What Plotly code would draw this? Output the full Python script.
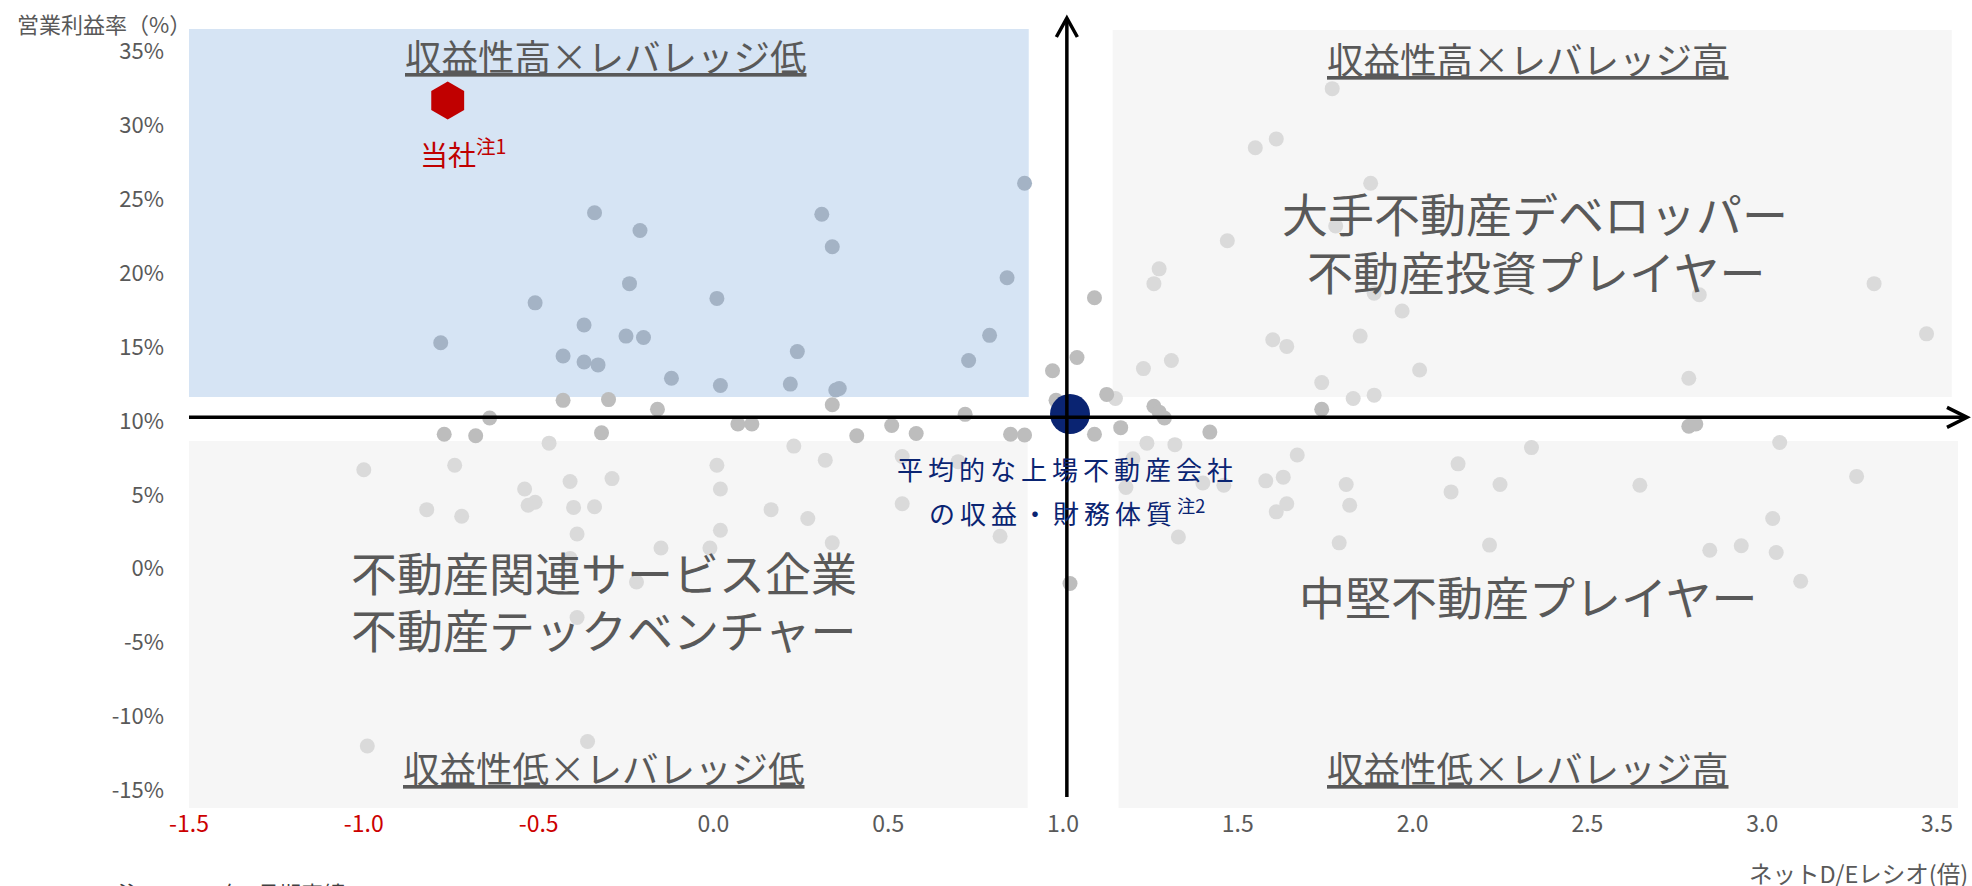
import plotly.graph_objects as go

FONT = "Noto Sans CJK JP, Noto Sans, sans-serif"
TXT_GRAY = "#595959"
RED = "#C00000"
NAVY = "#0A2472"

# ---------------- data ----------------
# peer listed real-estate companies: net D/E ratio (x) and operating margin % (y)
peer_de = [
    -0.34, -0.21, 0.31, 0.34, -0.24, -0.51, 0.01, -0.37, -0.78, -0.25, -0.20, 0.24,
    -0.43, -0.37, -0.33, -0.12, 0.02, 0.22, 0.35, 0.36, 0.89, 0.84, 0.79, 0.73,
    -0.43, -0.30, -0.16, 0.34, -0.64, 0.72, 0.97, 1.04, 1.09, 0.98, 1.125, 1.26,
    1.275, 1.29, 1.74, 0.07, 0.11, -0.77, -0.68, -0.32, 0.41, 0.51, 0.58, 0.85,
    0.89, 1.09, 1.165, 1.42, 2.79, 2.81, 1.02,
    -0.47, 0.23, -1.00, -0.74, 0.01, 0.32, -0.41, -0.29, -0.54, 0.02, -0.51, -0.53,
    -0.82, -0.72, -0.40, -0.34, 0.165, 0.27, -0.39, 0.02, 0.34, -0.15, -0.01, -0.41,
    -0.22, -0.39, -0.99, -0.36, 0.54, 0.54, 0.70, 0.82,
    1.24, 1.32, 1.67, 1.58, 1.63, 1.81, 1.64, 1.61, 1.82, 1.79, 1.33, 1.20,
    1.18, 1.40, 1.46, 2.13, 2.11, 2.25, 2.22, 2.34, 2.65, 3.05, 3.27, 3.03,
    2.85, 2.94, 3.04, 3.11,
    1.77, 1.55, 1.61, 1.88, 1.47, 1.78, 1.275, 1.26, 1.89, 1.97, 2.82, 3.32,
    3.47, 1.85, 1.60, 1.64, 2.02, 2.79, 1.74, 1.83, 1.89, 1.23, 1.31, 1.15,
]
peer_margin = [
    24.1, 22.9, 24.0, 21.8, 19.3, 18.0, 18.3, 16.5, 15.3, 15.75, 15.65, 14.7,
    14.4, 14.0, 13.8, 12.9, 12.4, 12.5, 12.1, 12.2, 26.1, 19.7, 15.8, 14.1,
    11.4, 11.45, 10.8, 11.1, 10.2, 10.45, 13.4, 14.3, 18.35, 11.4, 11.8, 11.0,
    10.6, 10.2, 10.8, 9.8, 9.8, 9.1, 9.0, 9.2, 9.0, 9.7, 9.15, 9.1,
    9.05, 9.1, 9.55, 9.25, 9.65, 9.8, -1.0,
    8.5, 8.3, 6.7, 7.0, 7.0, 7.35, 5.9, 6.1, 5.4, 5.4, 4.5, 4.3,
    4.0, 3.55, 4.15, 4.2, 4.0, 3.4, 2.35, 2.6, 1.75, 1.4, 1.4, 0.7,
    -0.9, -3.3, -12.0, -11.7, 4.4, 7.6, 7.25, 2.2,
    8.5, 8.4, 7.7, 5.95, 6.2, 5.7, 4.4, 3.85, 4.3, 1.75, 2.15, 7.45,
    5.5, 5.8, 5.65, 7.1, 5.2, 5.7, 1.6, 8.2, 5.65, 8.55, 6.25, 3.4,
    1.25, 1.55, 1.1, -0.85,
    32.5, 28.5, 29.1, 26.1, 22.2, 23.2, 20.3, 19.3, 18.65, 17.45, 18.55, 19.3,
    15.9, 15.75, 15.5, 15.05, 13.45, 12.9, 12.6, 11.52, 11.75, 13.55, 14.1, 11.52,
]

company_de = [-0.76]
company_margin = [31.7]
company_label = "当社"

avg_de = [1.02]
avg_margin = [10.47]

x_tickvals = [-1.5, -1.0, -0.5, 0.0, 0.5, 1.0, 1.5, 2.0, 2.5, 3.0, 3.5]
x_ticklabels = ["-1.5", "-1.0", "-0.5", "0.0", "0.5", "1.0", "1.5", "2.0", "2.5", "3.0", "3.5"]
y_tickvals = [35, 30, 25, 20, 15, 10, 5, 0, -5, -10, -15]
y_ticklabels = ["35%", "30%", "25%", "20%", "15%", "10%", "5%", "0%", "-5%", "-10%", "-15%"]

# ---------------- layout geometry ----------------
W, H = 1972, 886
M_L, M_R, M_T, M_B = 189, 14, 29, 78
PLOT_W = W - M_L - M_R
PLOT_H = H - M_T - M_B
X_RANGE = [-1.5, 3.56]
Y_RANGE = [-16.2, 36.54]

CROSS_X = 1.011
CROSS_Y = 10.25

# quadrant boxes (data coords)
BLUE_BOX = dict(x0=-1.5, x1=0.902, y0=11.62, y1=36.54)
TR_BOX = dict(x0=1.142, x1=3.542, y0=11.62, y1=36.47)
BL_BOX = dict(x0=-1.5, x1=0.899, y0=-16.2, y1=8.64)
BR_BOX = dict(x0=1.159, x1=3.56, y0=-16.2, y1=8.64)


def xp(x):
    return (x - X_RANGE[0]) / (X_RANGE[1] - X_RANGE[0])


def yp(y):
    return (y - Y_RANGE[0]) / (Y_RANGE[1] - Y_RANGE[0])


def pxp(px):
    return (px - M_L) / PLOT_W


def pyp(py):
    return (M_T + PLOT_H - py) / PLOT_H


def region(x, y):
    if x < 0.90 and y > 11.5:
        return "blue"
    if (x < 0.90 or x > 1.14) and (y > 11.5 or y < 8.7):
        return "light"
    return "mid"


groups = {"blue": ([], []), "light": ([], []), "mid": ([], [])}
for x, y in zip(peer_de, peer_margin):
    g = groups[region(x, y)]
    g[0].append(x)
    g[1].append(y)

dot_colors = {"blue": "#A4B3C5", "light": "#DADADA", "mid": "#BDBDBD"}

fig = go.Figure()
for key in ["light", "mid", "blue"]:
    xs, ys = groups[key]
    fig.add_trace(go.Scatter(
        x=xs, y=ys, mode="markers",
        marker=dict(size=15, color=dot_colors[key], line=dict(width=0)),
        hoverinfo="x+y", showlegend=False,
    ))

fig.add_trace(go.Scatter(
    x=avg_de, y=avg_margin, mode="markers",
    marker=dict(size=40, color=NAVY, line=dict(width=0)),
    showlegend=False,
))
fig.add_trace(go.Scatter(
    x=company_de, y=company_margin, mode="markers",
    marker=dict(size=38, color=RED, symbol="hexagon", line=dict(width=0)),
    showlegend=False,
))

shapes = []
for box, col in [(BLUE_BOX, "#D6E4F4"), (TR_BOX, "#F6F6F6"), (BL_BOX, "#F6F6F6"), (BR_BOX, "#F6F6F6")]:
    shapes.append(dict(type="rect", xref="x", yref="y", layer="below",
                       fillcolor=col, line=dict(width=0), **box))

# axis cross lines with arrowheads (paper coords, not clipped)
vx = xp(CROSS_X)
hy = yp(CROSS_Y)
LW = 3.5
shapes.append(dict(type="line", xref="paper", yref="paper", layer="above",
                   x0=vx, x1=vx, y0=pyp(797), y1=pyp(19),
                   line=dict(color="black", width=LW)))
shapes.append(dict(type="path", xref="paper", yref="paper", layer="above",
                   path=f"M {vx - 10.5 / PLOT_W},{pyp(37)} L {vx},{pyp(18)} L {vx + 10.5 / PLOT_W},{pyp(37)}",
                   line=dict(color="black", width=LW)))
shapes.append(dict(type="line", xref="paper", yref="paper", layer="above",
                   x0=0, x1=pxp(1966), y0=hy, y1=hy,
                   line=dict(color="black", width=LW)))
shapes.append(dict(type="path", xref="paper", yref="paper", layer="above",
                   path=f"M {pxp(1947)},{hy + 10 / PLOT_H} L {pxp(1967)},{hy} L {pxp(1947)},{hy - 10 / PLOT_H}",
                   line=dict(color="black", width=LW)))

ann = []


def add_text(text, px, py, size, color=TXT_GRAY, xanchor="center", yanchor="middle"):
    ann.append(dict(text=text, x=pxp(px), y=pyp(py), xref="paper", yref="paper",
                    xanchor=xanchor, yanchor=yanchor, showarrow=False,
                    font=dict(family=FONT, size=size, color=color)))


add_text("営業利益率（%）", 15, 23, 22, xanchor="left")
add_text("<u>収益性高×レバレッジ低</u>", 606, 56, 36.5)
add_text("<u>収益性高×レバレッジ高</u>", 1528, 58, 36.5)
add_text("<u>収益性低×レバレッジ低</u>", 604, 767, 36.5)
add_text("<u>収益性低×レバレッジ高</u>", 1528, 767, 36.5)
add_text("大手不動産デベロッパー", 1535, 212, 46)
add_text("不動産投資プレイヤー", 1536, 270, 46)
add_text("不動産関連サービス企業", 604, 571, 46)
add_text("不動産テックベンチャー", 604, 628, 46)
add_text("中堅不動産プレイヤー", 1528, 595, 46)
add_text(company_label + "<sup>注1</sup>", 418, 152, 28, color=RED, xanchor="left")
add_text('<span style="letter-spacing:5px">平均的な上場不動産会社</span>', 1067, 469, 26, color=NAVY)
add_text('<span style="letter-spacing:5px">の収益・財務体質</span><sup>注2</sup>', 1067, 511, 26, color=NAVY)
add_text("ネットD/Eレシオ(倍)", 1970, 873, 23.5, xanchor="right")
add_text("注1：2023年8月期実績", 116, 874, 22, color="#404040", xanchor="left", yanchor="top")

x_ticktext = [
    (f'<span style="color:#CC0000">{t}</span>' if v < 0 else t)
    for v, t in zip(x_tickvals, x_ticklabels)
]

fig.update_layout(
    width=W, height=H,
    margin=dict(l=M_L, r=M_R, t=M_T, b=M_B, autoexpand=False),
    paper_bgcolor="white", plot_bgcolor="white",
    showlegend=False,
    shapes=shapes,
    annotations=ann,
    font=dict(family=FONT, color=TXT_GRAY),
    xaxis=dict(range=X_RANGE, tickvals=x_tickvals, ticktext=x_ticktext,
               showgrid=False, zeroline=False, showline=False, ticks="",
               tickfont=dict(family=FONT, size=23, color=TXT_GRAY),
               fixedrange=True),
    yaxis=dict(range=Y_RANGE, tickvals=y_tickvals, ticktext=y_ticklabels,
               showgrid=False, zeroline=False, showline=False, ticks="",
               tickfont=dict(family=FONT, size=22, color=TXT_GRAY),
               ticklabelstandoff=24, fixedrange=True),
)

fig.write_html("out.html")
